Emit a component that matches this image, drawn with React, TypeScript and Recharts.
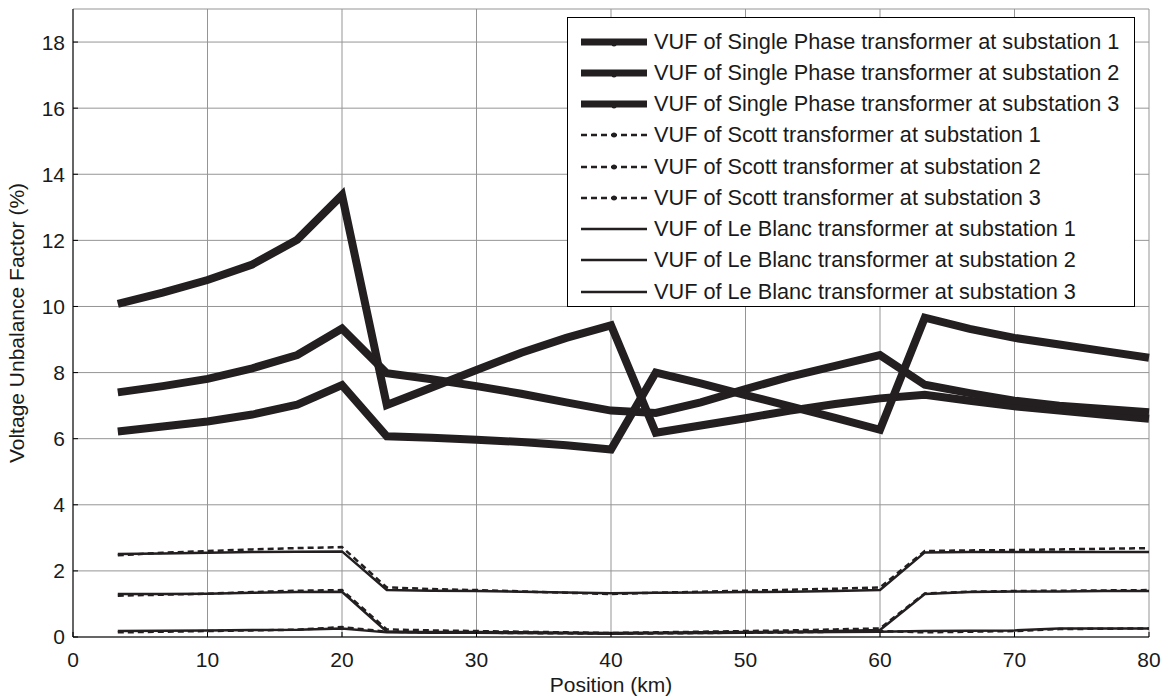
import { LineChart, Line, XAxis, YAxis, CartesianGrid } from 'recharts';

const positions = [3.33, 6.67, 10, 13.33, 16.67, 20, 23.33, 26.67, 30, 33.33, 36.67, 40, 43.33, 46.67, 50, 53.33, 56.67, 60, 63.33, 66.67, 70, 73.33, 76.67, 80];

const singlePhase1 = [10.08, 10.42, 10.8, 11.27, 12.02, 13.37, 7.02, 7.55, 8.08, 8.6, 9.05, 9.43, 6.18, 6.4, 6.62, 6.85, 7.05, 7.22, 7.33, 7.15, 6.98, 6.85, 6.72, 6.6];
const singlePhase2 = [7.4, 7.59, 7.81, 8.13, 8.53, 9.33, 7.98, 7.8, 7.59, 7.36, 7.1, 6.85, 6.78, 7.1, 7.5, 7.88, 8.2, 8.53, 7.63, 7.38, 7.15, 7.0, 6.9, 6.8];
const singlePhase3 = [6.22, 6.37, 6.52, 6.73, 7.03, 7.62, 6.07, 6.03, 5.97, 5.9, 5.8, 5.67, 8.0, 7.67, 7.32, 6.98, 6.63, 6.27, 9.66, 9.32, 9.05, 8.85, 8.65, 8.45];

const scott1 = [2.47, 2.55, 2.6, 2.65, 2.69, 2.72, 1.5, 1.45, 1.42, 1.38, 1.34, 1.3, 1.34, 1.37, 1.4, 1.43, 1.46, 1.5, 2.6, 2.62, 2.63, 2.65, 2.67, 2.69];
const scott2 = [1.25, 1.28, 1.31, 1.36, 1.4, 1.42, 0.23, 0.2, 0.18, 0.16, 0.14, 0.12, 0.14, 0.16, 0.18, 0.2, 0.23, 0.26, 1.32, 1.37, 1.39, 1.4, 1.41, 1.42];
const scott3 = [0.14, 0.16, 0.18, 0.2, 0.22, 0.3, 0.16, 0.14, 0.13, 0.12, 0.11, 0.1, 0.11, 0.12, 0.13, 0.14, 0.16, 0.18, 0.14, 0.16, 0.18, 0.24, 0.25, 0.26];

const leBlanc1 = [2.51, 2.53, 2.55, 2.57, 2.58, 2.59, 1.42, 1.4, 1.39, 1.37, 1.35, 1.32, 1.34, 1.35, 1.36, 1.37, 1.39, 1.42, 2.56, 2.57, 2.57, 2.57, 2.57, 2.57];
const leBlanc2 = [1.3, 1.3, 1.31, 1.34, 1.36, 1.37, 0.16, 0.15, 0.15, 0.14, 0.13, 0.12, 0.13, 0.14, 0.15, 0.16, 0.18, 0.21, 1.3, 1.36, 1.38, 1.38, 1.39, 1.39];
const leBlanc3 = [0.18, 0.19, 0.2, 0.21, 0.22, 0.26, 0.14, 0.13, 0.13, 0.12, 0.11, 0.1, 0.11, 0.12, 0.13, 0.14, 0.15, 0.16, 0.18, 0.19, 0.2, 0.26, 0.26, 0.26];

const xTicks = [0, 10, 20, 30, 40, 50, 60, 70, 80];
const yTicks = [0, 2, 4, 6, 8, 10, 12, 14, 16, 18];

const INK = '#231f20';
const TEXT = '#1a1a1a';
const FONT = '"Liberation Sans", Arial, sans-serif';

const series = [
  { key: 'sp1', name: 'VUF of Single Phase transformer at substation 1', values: singlePhase1, kind: 'single' },
  { key: 'sp2', name: 'VUF of Single Phase transformer at substation 2', values: singlePhase2, kind: 'single' },
  { key: 'sp3', name: 'VUF of Single Phase transformer at substation 3', values: singlePhase3, kind: 'single' },
  { key: 'sc1', name: 'VUF of Scott transformer at substation 1', values: scott1, kind: 'scott' },
  { key: 'sc2', name: 'VUF of Scott transformer at substation 2', values: scott2, kind: 'scott' },
  { key: 'sc3', name: 'VUF of Scott transformer at substation 3', values: scott3, kind: 'scott' },
  { key: 'lb1', name: 'VUF of Le Blanc transformer at substation 1', values: leBlanc1, kind: 'leblanc' },
  { key: 'lb2', name: 'VUF of Le Blanc transformer at substation 2', values: leBlanc2, kind: 'leblanc' },
  { key: 'lb3', name: 'VUF of Le Blanc transformer at substation 3', values: leBlanc3, kind: 'leblanc' },
];

const data = positions.map((x, i) => {
  const row: Record<string, number> = { x };
  series.forEach((s) => { row[s.key] = s.values[i]; });
  return row;
});

const lineStyle = (kind: string) => {
  if (kind === 'single') return { strokeWidth: 8, dash: undefined };
  if (kind === 'scott') return { strokeWidth: 2.5, dash: '6 4' };
  return { strokeWidth: 2.5, dash: undefined };
};

// legend drawn as an overlay so it doesn't eat plot space
function LegendBox() {
  return (
    <div
      style={{
        position: 'absolute', left: 567, top: 17, width: 568, height: 290, boxSizing: 'border-box',
        border: '1px solid #000', background: '#fff', padding: '8px 0 0 0', fontFamily: FONT,
      }}
    >
      {series.map((s) => {
        const st = lineStyle(s.kind);
        return (
          <div key={s.key} style={{ display: 'flex', alignItems: 'center', height: 31.25 }}>
            <svg width={86} height={20} style={{ flex: 'none' }}>
              <line x1={13} x2={79} y1={10} y2={10} stroke={INK} strokeWidth={s.kind === 'single' ? 7 : 2.5} strokeDasharray={st.dash} />
              {s.kind !== 'leblanc' && <circle cx={46} cy={s.kind === 'single' ? 12 : 10} r={2.5} fill={INK} />}
            </svg>
            <span style={{ fontSize: 21.7, color: TEXT, whiteSpace: 'nowrap' }}>{s.name}</span>
          </div>
        );
      })}
    </div>
  );
}

const noTick = () => <g />;

export default function App() {
  return (
    <div style={{ position: 'absolute', left: 0, top: 0, width: 1170, height: 697, background: '#fff' }}>
      <LineChart width={1170} height={697} data={data} margin={{ top: 9, right: 21, left: 0, bottom: 0 }}>
        <CartesianGrid stroke="#959595" strokeWidth={1} />
        <XAxis
          dataKey="x"
          type="number"
          domain={[0, 80]}
          ticks={xTicks}
          height={60}
          tickSize={-5}
          tickMargin={20}
          tickLine={{ stroke: '#000' }}
          axisLine={{ stroke: '#000' }}
          tick={{ fill: TEXT, fontSize: 21, fontFamily: FONT }}
          label={{ value: 'Position (km)', position: 'insideBottom', offset: 5, fill: TEXT, fontSize: 21, fontFamily: FONT }}
        />
        <XAxis
          xAxisId="top"
          orientation="top"
          dataKey="x"
          type="number"
          domain={[0, 80]}
          ticks={xTicks}
          height={0}
          tickSize={-5}
          tick={noTick}
          tickLine={{ stroke: '#000' }}
          axisLine={{ stroke: '#000' }}
        />
        <YAxis
          type="number"
          domain={[0, 19]}
          ticks={yTicks}
          width={73}
          tickSize={-5}
          tickMargin={13}
          tickLine={{ stroke: '#000' }}
          axisLine={{ stroke: '#000' }}
          tick={{ fill: TEXT, fontSize: 21, fontFamily: FONT }}
          label={{ value: 'Voltage Unbalance Factor (%)', angle: -90, position: 'insideLeft', offset: 17, fill: TEXT, fontSize: 21, fontFamily: FONT, style: { textAnchor: 'middle' } }}
        />
        <YAxis
          yAxisId="right"
          orientation="right"
          type="number"
          domain={[0, 19]}
          ticks={yTicks}
          width={0}
          tickSize={-5}
          tick={noTick}
          tickLine={{ stroke: '#000' }}
          axisLine={{ stroke: '#000' }}
        />
        {series.map((s) => {
          const st = lineStyle(s.kind);
          return (
            <Line
              key={s.key}
              dataKey={s.key}
              name={s.name}
              type="linear"
              stroke={INK}
              strokeWidth={st.strokeWidth}
              strokeDasharray={st.dash}
              strokeLinejoin="miter"
              dot={false}
              activeDot={false}
              isAnimationActive={false}
            />
          );
        })}
      </LineChart>
      <LegendBox />
    </div>
  );
}
